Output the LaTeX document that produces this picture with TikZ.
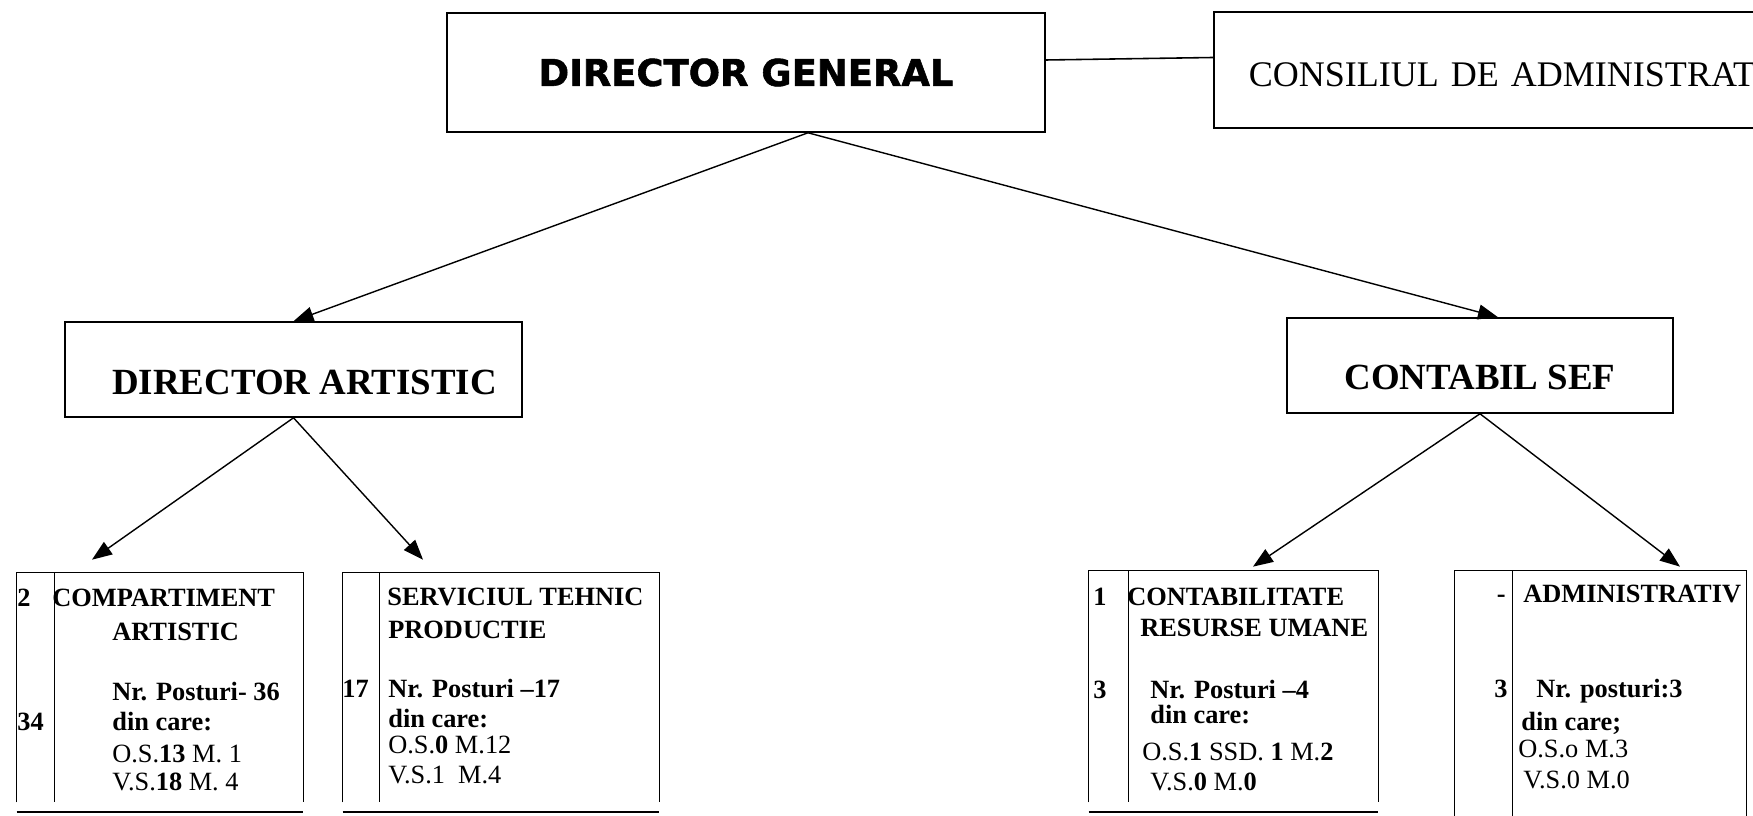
\documentclass[tikz,border=0pt]{standalone}
\usepackage{fontspec}
\setmainfont{Liberation Serif}
\newfontfamily\heavyfont{DejaVu Sans}[BoldFeatures={FakeBold=1.5}]
\usetikzlibrary{arrows.meta}

\tikzset{
  headbox/.style={rectangle, draw, line width=0.9pt, inner sep=0pt},
  unitbox/.style={rectangle, inner sep=0pt},
  cell/.style={anchor=base west, inner sep=0pt, font=\fontsize{15}{17}\selectfont\bfseries},
  cellr/.style={cell, anchor=base east},
  link/.style={line width=0.8pt, -{Triangle[length=0.4cm,width=0.3cm]}},
  rule/.style={line width=0.9pt}
}

\begin{document}
\begin{tikzpicture}
\useasboundingbox (0,0) rectangle (35.06,16.3);
\clip (0,0) rectangle (35.06,16.3);

% top level
\node[headbox, minimum width=11.96cm, minimum height=2.38cm,
      font=\heavyfont\bfseries\fontsize{21}{24}\selectfont] (dg)
      at (14.92,14.85) {DIRECTOR GENERAL};
\node[headbox, anchor=west, text width=11.3cm, align=left, inner xsep=0.7cm,
      minimum height=2.32cm, text height=0.68cm, text depth=0pt,
      font=\fontsize{20.5}{24}\selectfont] (ca)
      at (24.26,14.9) {CONSILIUL DE ADMINISTRAT};
\draw[rule] ([yshift=0.25cm]dg.east) -- ([yshift=0.25cm]ca.west);

% second level
\node[headbox, minimum width=9.14cm, minimum height=1.9cm, text height=1.02cm,
      text depth=0pt, font=\bfseries\fontsize{21}{24}\selectfont] (da)
      at (5.87,8.91) {\hspace*{0.44cm}DIRECTOR ARTISTIC};
\node[headbox, minimum width=7.72cm, minimum height=1.9cm, text height=0.98cm,
      text depth=0pt, font=\bfseries\fontsize{21}{24}\selectfont] (cs)
      at (29.6,8.99) {CONTABIL SEF};

\coordinate (dgfoot) at ([xshift=1.24cm]dg.south);
\draw[link] (dgfoot) -- (da.north);
\draw[link] (dgfoot) -- ([xshift=0.36cm]cs.north);

% units
\node[unitbox, minimum width=5.72cm, minimum height=4.58cm] (comp) at (3.2,2.55) {};
\node[unitbox, minimum width=6.32cm, minimum height=4.58cm] (serv) at (10.02,2.55) {};
\node[unitbox, minimum width=5.78cm, minimum height=4.62cm] (cont) at (24.67,2.57) {};
\node[unitbox, minimum width=5.82cm, minimum height=4.98cm] (adm) at (32.01,2.39) {};

\foreach \b/\c in {comp/0.76, serv/0.74, cont/0.8, adm/1.16} {
  \draw[rule] (\b.south west) -- (\b.north west) -- (\b.north east) -- (\b.south east);
  \draw[rule] ([xshift=\c cm]\b.north west) -- ([xshift=\c cm]\b.south west);
}
\foreach \b in {comp, serv, cont}
  \draw[rule] ([yshift=-0.19cm]\b.south west) -- ([yshift=-0.19cm]\b.south east);

\draw[link] (da.south) -- ([xshift=-1.36cm,yshift=0.26cm]comp.north);
\draw[link] (da.south) -- ([xshift=-1.56cm,yshift=0.26cm]serv.north);
\draw[link] (cs.south) -- ([xshift=0.39cm,yshift=0.08cm]cont.north);
\draw[link] (cs.south) -- ([xshift=1.59cm,yshift=0.08cm]adm.north);

% unit texts
\node[cell] (comp0) at (0.34,4.16) {2};
\node[cell] (comp1) at (1.04,4.16) {COMPARTIMENT};
\node[cell] (comp2) at (2.24,3.5) {ARTISTIC};
\node[cell] (comp3) at (2.24,2.3) {Nr. Posturi- 36};
\node[cell] (comp4) at (0.34,1.7) {34};
\node[cell] (comp5) at (2.24,1.7) {din care:};
\node[cell] (comp6) at (2.24,1.06) {\textmd{O.S.}13\textmd{ M. 1}};
\node[cell] (comp7) at (2.24,0.5) {\textmd{V.S.}18\textmd{ M. 4}};

\node[cell] (serv1) at (7.74,4.2) {SERVICIUL TEHNIC};
\node[cell] (serv2) at (7.76,3.54) {PRODUCTIE};
\node[cell] (serv0) at (6.84,2.36) {17};
\node[cell] (serv3) at (7.76,2.36) {Nr. Posturi --17};
\node[cell] (serv4) at (7.76,1.76) {din care:};
\node[cell] (serv5) at (7.76,1.24) {\textmd{O.S.}0\textmd{ M.12}};
\node[cell] (serv6) at (7.76,0.64) {\textmd{V.S.1 \ M.4}};

\node[cell] (cont0) at (21.86,4.2) {1};
\node[cell] (cont1) at (22.54,4.2) {CONTABILITATE};
\node[cell] (cont2) at (22.8,3.56) {RESURSE UMANE};
\node[cell] (cont3) at (21.86,2.34) {3};
\node[cell] (cont4) at (23.0,2.34) {Nr. Posturi --4};
\node[cell] (cont5) at (23.0,1.84) {din care:};
\node[cell] (cont6) at (22.84,1.1) {\textmd{O.S.}1\textmd{ SSD. }1\textmd{ M.}2};
\node[cell] (cont7) at (23.0,0.5) {\textmd{V.S.}0\textmd{ M.}0};

\node[cellr] (adm0) at (30.12,4.24) {-};
\node[cell] (adm1) at (30.46,4.24) {ADMINISTRATIV};
\node[cellr] (adm2) at (30.16,2.36) {3};
\node[cell] (adm3) at (30.72,2.36) {Nr. posturi:3};
\node[cell] (adm4) at (30.42,1.7) {din care;};
\node[cell, font=\fontsize{15}{17}\selectfont] (adm5) at (30.36,1.16) {O.S.o M.3};
\node[cell, font=\fontsize{15}{17}\selectfont] (adm6) at (30.46,0.54) {V.S.0 M.0};
\end{tikzpicture}
\end{document}
